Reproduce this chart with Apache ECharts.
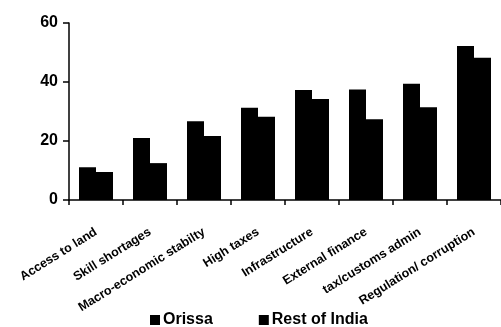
<!DOCTYPE html>
<html><head><meta charset="utf-8">
<script src="https://cdn.jsdelivr.net/npm/echarts@6/dist/echarts.min.js"></script>
<style>html,body{margin:0;padding:0;background:#fff;}#c{width:501px;height:327px;}</style>
</head><body><div id="c"></div>
<script>
var categories = ["Access to land","Skill shortages","Macro-economic stabilty","High taxes","Infrastructure","External finance","tax/customs admin","Regulation/ corruption"];
var orissa = [11.1, 21.0, 26.7, 31.3, 37.3, 37.5, 39.4, 52.2];
var restOfIndia = [9.5, 12.5, 21.7, 28.2, 34.2, 27.4, 31.4, 48.2];
var seriesNames = ["Orissa", "Rest of India"];
var yTicks = {min: 0, max: 60, interval: 20};

var chart = echarts.init(document.getElementById('c'), null, {renderer: 'canvas'});
var font = 'Liberation Sans, Arial, sans-serif';
chart.setOption({
  animation: false,
  backgroundColor: '#fff',
  grid: {left: 69, right: -12, top: 23, bottom: 127, containLabel: false},
  legend: {
    data: seriesNames, top: 312, left: 150, itemGap: 46, padding: 0,
    itemWidth: 10, itemHeight: 10, icon: 'rect',
    textStyle: {fontFamily: font, fontSize: 16, fontWeight: 'bold', color: '#000', padding: [0, 0, 0, -2]}
  },
  xAxis: {
    type: 'category', data: categories,
    axisLine: {lineStyle: {color: '#000', width: 1.5}},
    axisTick: {show: true, length: 5, lineStyle: {color: '#000', width: 1.5}},
    axisLabel: {rotate: 32, interval: 0, margin: 31, color: '#000',
      fontFamily: font, fontSize: 12.5, fontWeight: 'bold'}
  },
  yAxis: {
    type: 'value', min: yTicks.min, max: yTicks.max, interval: yTicks.interval,
    axisLine: {show: true, lineStyle: {color: '#000', width: 1.5}},
    axisTick: {show: true, length: 6, lineStyle: {color: '#000', width: 1.5}},
    splitLine: {show: false},
    axisLabel: {color: '#000', fontFamily: font, fontSize: 16, fontWeight: 'bold', margin: 11}
  },
  series: [
    {name: seriesNames[0], type: 'bar', data: orissa, barWidth: 17, barGap: '0%', itemStyle: {color: '#000'}},
    {name: seriesNames[1], type: 'bar', data: restOfIndia, barWidth: 17, barGap: '0%', itemStyle: {color: '#000'}}
  ]
});
</script></body></html>
